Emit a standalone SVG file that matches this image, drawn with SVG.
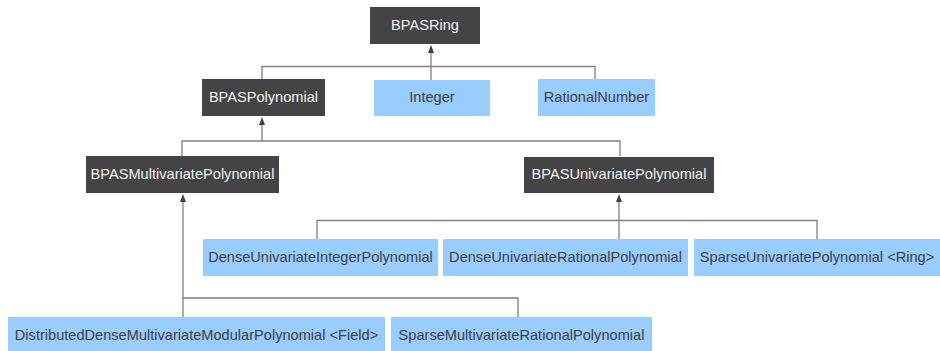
<svg xmlns="http://www.w3.org/2000/svg" width="940" height="351" viewBox="0 0 940 351">
<defs>
<style>
.dark rect{fill:#444444;}
.dark text{fill:#f2f2f2;}
.light rect{fill:#99ccff;}
.light text{fill:#404040;}
text{font-family:"Liberation Sans",Arial,sans-serif;font-size:14.6px;text-anchor:middle;}
.edge{fill:none;stroke:#808080;stroke-width:1.3;}
.head{fill:#404040;stroke:none;}
</style>
</defs>
<rect width="940" height="351" fill="#ffffff"/>
<g id="connectors">
<polyline class="edge" points="262,79 262,66.5 595,66.5 595,79"/>
<line class="edge" x1="431" y1="80" x2="431" y2="50"/>
<polygon class="head" points="431,45 434,53 428,53"/>
<polyline class="edge" points="182,156 182,141 620,141 620,156"/>
<line class="edge" x1="262" y1="141" x2="262" y2="123"/>
<polygon class="head" points="262,117 265,125 259,125"/>
<polyline class="edge" points="317,239 317,220.5 817,220.5 817,239"/>
<line class="edge" x1="619" y1="239" x2="619" y2="200"/>
<polygon class="head" points="619,194 622,202 616,202"/>
<polyline class="edge" points="183,317 183,298 518,298 518,317"/>
<line class="edge" x1="183" y1="298" x2="183" y2="200"/>
<polygon class="head" points="183,194 186,202 180,202"/>
</g>
<g id="BPASRing" class="dark"><rect x="370" y="7" width="110" height="37"/><text x="425" y="29.5">BPASRing</text></g>
<g id="BPASPolynomial" class="dark"><rect x="202" y="79" width="123" height="37"/><text x="263.5" y="101.5">BPASPolynomial</text></g>
<g id="Integer" class="light"><rect x="374" y="80" width="116" height="36"/><text x="432" y="102">Integer</text></g>
<g id="RationalNumber" class="light"><rect x="538" y="79" width="117" height="37"/><text x="596.5" y="101.5">RationalNumber</text></g>
<g id="BPASMultivariatePolynomial" class="dark"><rect x="86" y="156" width="193" height="37"/><text x="182.5" y="178.5">BPASMultivariatePolynomial</text></g>
<g id="BPASUnivariatePolynomial" class="dark"><rect x="524" y="157" width="190" height="36"/><text x="619" y="179">BPASUnivariatePolynomial</text></g>
<g id="DenseUnivariateIntegerPolynomial" class="light"><rect x="203" y="239" width="235" height="37"/><text x="320.5" y="261.5">DenseUnivariateIntegerPolynomial</text></g>
<g id="DenseUnivariateRationalPolynomial" class="light"><rect x="443" y="239" width="245" height="37"/><text x="565.5" y="261.5">DenseUnivariateRationalPolynomial</text></g>
<g id="SparseUnivariatePolynomial" class="light"><rect x="694" y="239" width="246" height="37"/><text x="817" y="261.5">SparseUnivariatePolynomial &lt;Ring&gt;</text></g>
<g id="DistributedDenseMultivariateModularPolynomial" class="light"><rect x="8" y="317" width="377" height="37"/><text x="196.5" y="339.5">DistributedDenseMultivariateModularPolynomial &lt;Field&gt;</text></g>
<g id="SparseMultivariateRationalPolynomial" class="light"><rect x="391" y="317" width="261" height="37"/><text x="521.5" y="339.5">SparseMultivariateRationalPolynomial</text></g>
</svg>
